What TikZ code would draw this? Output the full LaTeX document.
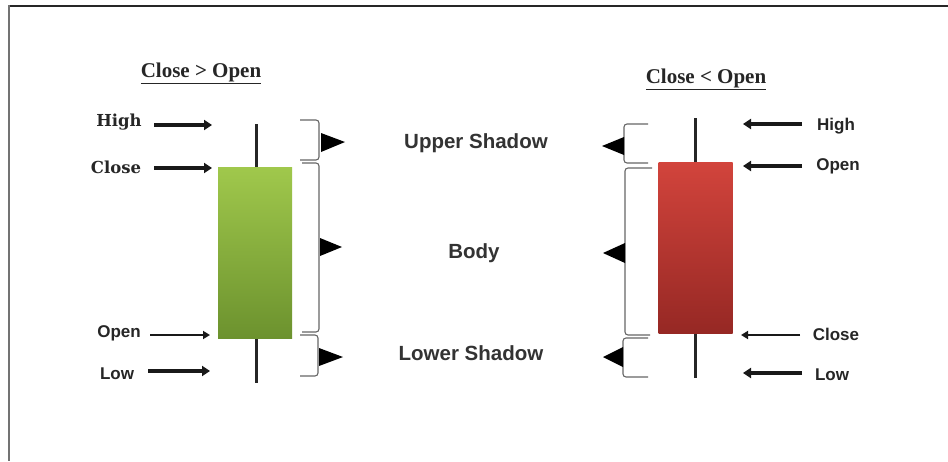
\documentclass[tikz,border=0pt]{standalone}
\usepackage{fontspec}
\setmainfont{Liberation Sans}
\newfontfamily\labelserif{DejaVu Serif}
\newfontfamily\titleserif{Liberation Serif}
\usetikzlibrary{arrows.meta}

\definecolor{bullTop}{RGB}{160,200,76}
\definecolor{bullBottom}{RGB}{108,146,46}
\definecolor{bearTop}{RGB}{210,68,60}
\definecolor{bearBottom}{RGB}{150,40,36}

\begin{document}
\begin{tikzpicture}[x=1pt,y=-1pt,
  pointer/.style={line width=3.6pt, black!90, -{Triangle[length=8pt,width=10pt]}},
  thinpointer/.style={line width=2.2pt, black!90, -{Triangle[length=7pt,width=8pt]}},
  wick/.style={line width=3pt, black!85},
  bracket/.style={draw=black!60, line width=1.1pt, rounded corners=3pt},
  marker/.style={fill=black},
  sanslabel/.style={font=\fontsize{17}{20}\selectfont\bfseries, text=black!85, inner sep=0pt},
  seriflabel/.style={font=\labelserif\fontsize{16.5}{19}\selectfont\bfseries, text=black!85, inner sep=0pt},
  part/.style={font=\fontsize{20.5}{24}\selectfont\bfseries, text=black!80, inner sep=0pt},
  title/.style={font=\titleserif\fontsize{21}{24}\selectfont\bfseries, text=black!85, inner sep=0pt},
  candle/.style={minimum width=74pt, inner sep=0pt, draw=none}]

\useasboundingbox (0,0) rectangle (948,461);
\fill[white] (0,0) rectangle (948,461);

% frame
\draw[line width=2pt, black!85] (9,6) -- (948,6);
\draw[line width=2.6pt, black!55] (9,5) -- (9,461);

% titles
\node[title] (tup) at (201,73) {\underline{Close > Open}};
\node[title] (tdown) at (706,79) {\underline{Close < Open}};

% ---------- bullish candle ----------
\draw[wick] (256,124) -- (256,383);
\node[candle, minimum height=171pt, top color=bullTop, bottom color=bullBottom]
  (gbody) at (255,252.5) {};

\node[seriflabel] (lhigh) at (119,122) {High};
\node[seriflabel] (lclose) at (116,167) {Close};
\node[sanslabel] (lopen) at (119,333) {Open};
\node[sanslabel] (llow) at (117,374) {Low};

\coordinate (lhighA) at (154,125);  \coordinate (lhighB) at (212,125);
\coordinate (lcloseA) at (154,168); \coordinate (lcloseB) at (212,168);
\coordinate (lopenA) at (150,335);  \coordinate (lopenB) at (210,335);
\coordinate (llowA) at (148,371);   \coordinate (llowB) at (210,371);
\draw[pointer] (lhighA) -- (lhighB);
\draw[pointer] (lcloseA) -- (lcloseB);
\draw[thinpointer] (lopenA) -- (lopenB);
\draw[pointer] (llowA) -- (llowB);

% brackets to the right
\draw[bracket] (300,120) -- (319,120) -- (319,160) -- (300,160);
\fill[marker] (321,133) -- (345,142) -- (321,152) -- cycle;
\draw[bracket] (302,163) -- (319,163) -- (319,332) -- (302,332);
\fill[marker] (320,238) -- (342,247) -- (320,256) -- cycle;
\draw[bracket] (300,335) -- (318,335) -- (318,376) -- (300,376);
\fill[marker] (319,348) -- (343,357) -- (319,366) -- cycle;

% part names
\node[part] (pupper) at (476,143) {Upper Shadow};
\node[part] (pbody) at (474,253) {Body};
\node[part] (plower) at (471,353) {Lower Shadow};

% ---------- bearish candle ----------
\draw[wick] (695,118) -- (695,378);
\node[candle, minimum height=171pt, top color=bearTop, bottom color=bearBottom]
  (rbody) at (695.5,247.5) {};

\node[sanslabel] (rhigh) at (836,126) {High};
\node[sanslabel] (ropen) at (838,166) {Open};
\node[sanslabel] (rclose) at (836,334) {Close};
\node[sanslabel] (rlow) at (832,375) {Low};

\coordinate (rhighA) at (802,124);  \coordinate (rhighB) at (743,124);
\coordinate (ropenA) at (802,166);  \coordinate (ropenB) at (743,166);
\coordinate (rcloseA) at (800,335); \coordinate (rcloseB) at (741,335);
\coordinate (rlowA) at (802,373);   \coordinate (rlowB) at (743,373);
\draw[pointer] (rhighA) -- (rhighB);
\draw[pointer] (ropenA) -- (ropenB);
\draw[thinpointer] (rcloseA) -- (rcloseB);
\draw[pointer] (rlowA) -- (rlowB);

% brackets to the left
\draw[bracket] (648,124) -- (624,124) -- (624,163) -- (648,163);
\fill[marker] (624,137) -- (602,146) -- (624,155) -- cycle;
\draw[bracket] (652,168) -- (625,168) -- (625,335) -- (650,335);
\fill[marker] (625,243) -- (603,253) -- (625,263) -- cycle;
\draw[bracket] (648,338) -- (623,338) -- (623,377) -- (648,377);
\fill[marker] (623,347) -- (603,357) -- (623,367) -- cycle;

\end{tikzpicture}
\end{document}
